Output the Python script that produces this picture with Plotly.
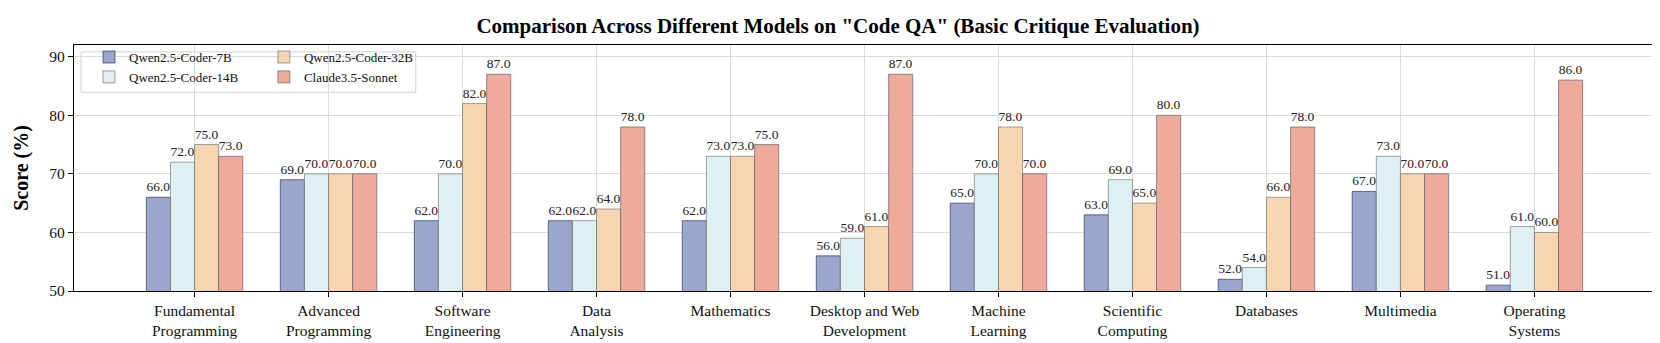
import plotly.graph_objects as go

categories = [
    "Fundamental<br>Programming", "Advanced<br>Programming", "Software<br>Engineering",
    "Data<br>Analysis", "Mathematics", "Desktop and Web<br>Development",
    "Machine<br>Learning", "Scientific<br>Computing", "Databases", "Multimedia",
    "Operating<br>Systems",
]
models = ["Qwen2.5-Coder-7B", "Qwen2.5-Coder-14B", "Qwen2.5-Coder-32B", "Claude3.5-Sonnet"]
coder_7b = [66, 69, 62, 62, 62, 56, 65, 63, 52, 67, 51]
coder_14b = [72, 70, 70, 62, 73, 59, 70, 69, 54, 73, 61]
coder_32b = [75, 70, 82, 64, 73, 61, 78, 65, 66, 70, 60]
claude = [73, 70, 87, 78, 75, 87, 70, 80, 78, 70, 86]
colors = ["#9AA6CC", "#DFF0F2", "#F5D6B1", "#EEAB9C"]
edges = ["rgba(60,66,95,0.75)", "rgba(90,90,90,0.55)", "rgba(90,90,90,0.55)", "rgba(90,90,90,0.65)"]

FONT = "Times New Roman, Liberation Serif, serif"
W, H = 1660, 343
L, R, T, B = 66, 12, 37, 56
pw, ph = W - L - R, H - T - B

fig = go.Figure()
series = [coder_7b, coder_14b, coder_32b, claude]
legend_ids = ["legend", "legend", "legend2", "legend2"]
for name, vals, col, edge, lg in zip(models, series, colors, edges, legend_ids):
    fig.add_trace(go.Bar(
        x=categories, y=vals, name=name, legend=lg,
        marker=dict(color=col, line=dict(color=edge, width=1)),
        texttemplate="%{y:.1f}", textposition="outside", constraintext="none",
        textfont=dict(family=FONT, size=13.5, color="#222222"),
        cliponaxis=False,
    ))

# legend frame (two columns like matplotlib ncol=2)
fig.add_shape(
    type="rect", xref="paper", yref="paper", layer="below",
    x0=(73 - L) / pw, x1=(408 - L) / pw, y0=(H - B - 85) / ph, y1=(H - B - 44) / ph,
    fillcolor="rgba(255,255,255,0.85)", line=dict(color="#d0d0d0", width=1),
)

legend_style = dict(
    bgcolor="rgba(0,0,0,0)", borderwidth=0, yanchor="top",
    font=dict(family=FONT, size=13, color="#111111"), tracegroupgap=0,
)
fig.update_layout(
    width=W, height=H,
    margin=dict(l=L, r=R, t=T, b=B),
    plot_bgcolor="white", paper_bgcolor="white",
    barmode="group", bargap=0.28, bargroupgap=0,
    font=dict(family=FONT, color="#111111"),
    title=dict(
        text='Comparison Across Different Models on "Code QA" (Basic Critique Evaluation)',
        x=0.5, xanchor="center", y=1 - 18 / H, yanchor="middle", yref="container",
        font=dict(family=FONT, size=21, color="black", weight="bold"),
    ),
    legend=dict(x=(81 - L) / pw, y=(H - B - 34) / ph, xanchor="left", **legend_style),
    legend2=dict(x=(256 - L) / pw, y=(H - B - 34) / ph, xanchor="left", **legend_style),
    xaxis=dict(
        range=[-0.9, 10.9], showgrid=True, gridcolor="#dcdcdc", gridwidth=1,
        showline=True, linecolor="black", linewidth=1.3, mirror=True,
        ticks="outside", ticklen=5, tickcolor="black",
        tickfont=dict(family=FONT, size=15.5, color="#111111"),
    ),
    yaxis=dict(
        range=[50, 92], dtick=10, showgrid=True, gridcolor="#dcdcdc", gridwidth=1,
        showline=True, linecolor="black", linewidth=1.3, mirror=True,
        ticks="outside", ticklen=5, tickcolor="black", zeroline=False,
        tickfont=dict(family=FONT, size=15.5, color="#111111"),
        title=dict(text="Score (%)", standoff=15,
                   font=dict(family=FONT, size=20, color="black", weight="bold")),
    ),
)

fig.write_html("out.html")
